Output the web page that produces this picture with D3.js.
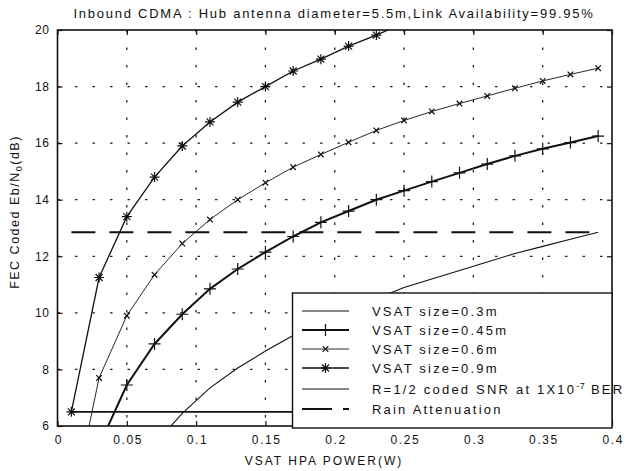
<!DOCTYPE html>
<html lang="en">
  <head>
    <meta charset="utf-8">
    <title>Inbound CDMA</title>
    <script src="https://d3js.org/d3.v7.min.js"></script>
    <style>
      body { margin: 0; background: #fff; }
      text { font-family: "Liberation Sans", Arial, sans-serif; fill: #111; }
    </style>
  </head>
  <body>
    <svg id="chart" width="638" height="471"></svg>
    <script type="text/javascript">

    // HPA power samples (W)
    var power = [0.01, 0.03, 0.05, 0.07, 0.09, 0.11, 0.13, 0.15, 0.17, 0.19,
                 0.21, 0.23, 0.25, 0.27, 0.29, 0.31, 0.33, 0.35, 0.37, 0.39];

    // Eb/No (dB) per VSAT size, null = not drawn
    var vsat03  = [null, null, null, 5.35, 6.45, 7.35, 8.05, 8.65, 9.2, 9.7,
                   10.1, 10.5, 10.9, 11.2, 11.5, 11.8, 12.1, 12.35, 12.6, 12.85];
    var vsat045 = [null, 5.3, 7.45, 8.9, 9.95, 10.85, 11.55, 12.15, 12.7, 13.2,
                   13.6, 14.0, 14.32, 14.64, 14.95, 15.26, 15.55, 15.8, 16.02, 16.25];
    var vsat06  = [3.0, 7.7, 9.9, 11.35, 12.45, 13.3, 14.0, 14.6, 15.15, 15.6,
                   16.03, 16.45, 16.8, 17.12, 17.4, 17.67, 17.94, 18.2, 18.43, 18.65];
    var vsat09  = [6.5, 11.25, 13.4, 14.8, 15.9, 16.75, 17.45, 18.0, 18.55, 18.97,
                   19.43, 19.82, 20.25];

    var snrLevel = 6.5;    // R=1/2 coded SNR at 1e-7 BER
    var rainLevel = 12.85; // rain attenuation

    var xTicks = [0, 0.05, 0.1, 0.15, 0.2, 0.25, 0.3, 0.35, 0.4];
    var xTickLabels = ["0", "0.05", "0.1", "0.15", "0.2", "0.25", "0.3", "0.35", "0.4"];
    var yTicks = [6, 8, 10, 12, 14, 16, 18, 20];

    var legendLabels = ["VSAT size=0.3m", "VSAT size=0.45m", "VSAT size=0.6m", "VSAT size=0.9m"];

    // note: "top" is reserved on window, so use p* names
    var pLeft = 57.5, pRight = 612, pTop = 30, pBottom = 426;
    var svg = d3.select("#chart");

    var x = d3.scaleLinear().domain([0, 0.4]).range([pLeft, pRight]);
    var y = d3.scaleLinear().domain([6, 20]).range([pBottom, pTop]);

    svg.append("defs").append("clipPath").attr("id", "plotclip")
      .append("rect").attr("x", pLeft).attr("y", pTop)
      .attr("width", pRight - pLeft).attr("height", pBottom - pTop);

    // grid (matlab style dotted)
    var grid = svg.append("g").attr("stroke", "#222").attr("stroke-width", 1.3)
      .attr("stroke-dasharray", "2.5,15");
    grid.selectAll(".vg").data(xTicks.slice(1, -1)).enter().append("line")
      .attr("x1", function(d){ return x(d); }).attr("x2", function(d){ return x(d); })
      .attr("y1", pTop).attr("y2", pBottom);
    grid.selectAll(".hg").data(yTicks.slice(1, -1)).enter().append("line")
      .attr("y1", function(d){ return y(d); }).attr("y2", function(d){ return y(d); })
      .attr("x1", pLeft).attr("x2", pRight);

    // axes with inward ticks on all sides
    var xAxis = d3.axisBottom(x).tickValues(xTicks).tickSize(-5).tickPadding(9)
      .tickFormat(function(d, i){ return xTickLabels[i]; });
    var yAxis = d3.axisLeft(y).tickValues(yTicks).tickSize(-5).tickPadding(8);

    var gx = svg.append("g").attr("transform", "translate(0," + pBottom + ")").call(xAxis);
    var gy = svg.append("g").attr("transform", "translate(" + pLeft + ",0)").call(yAxis);
    svg.append("g").attr("transform", "translate(0," + pTop + ")")
      .call(d3.axisTop(x).tickValues(xTicks).tickSize(-5).tickFormat(""));
    svg.append("g").attr("transform", "translate(" + pRight + ",0)")
      .call(d3.axisRight(y).tickValues(yTicks).tickSize(-5).tickFormat(""));

    svg.selectAll(".domain").remove();
    svg.selectAll(".tick line").attr("stroke", "#111").attr("stroke-width", 1.2);
    svg.selectAll(".tick text").style("font-size", "12px")
      .style("font-family", "'Liberation Sans', Arial, sans-serif").attr("fill", "#111");
    gx.selectAll(".tick text").style("letter-spacing", "1.6px").attr("dx", "0.8");
    gy.selectAll(".tick text").style("letter-spacing", "0.6px");

    svg.append("rect").attr("x", pLeft).attr("y", pTop)
      .attr("width", pRight - pLeft).attr("height", pBottom - pTop)
      .attr("fill", "none").attr("stroke", "#111").attr("stroke-width", 1.6);

    // marker shapes
    function markerPath(type, s) {
      if (type === "plus") return "M" + (-s) + ",0H" + s + "M0," + (-s) + "V" + s;
      if (type === "x") return "M" + (-s*0.7) + "," + (-s*0.7) + "L" + (s*0.7) + "," + (s*0.7) +
        "M" + (-s*0.7) + "," + (s*0.7) + "L" + (s*0.7) + "," + (-s*0.7);
      if (type === "star") return markerPath("plus", s) + markerPath("x", s);
      return "";
    }

    var series = [
      { vals: vsat03,  width: 1.1, marker: null,   ms: 0 },
      { vals: vsat045, width: 2.0, marker: "plus", ms: 6 },
      { vals: vsat06,  width: 0.9, marker: "x",    ms: 4 },
      { vals: vsat09,  width: 1.3, marker: "star", ms: 5 }
    ];

    var plot = svg.append("g").attr("clip-path", "url(#plotclip)");

    var line = d3.line()
      .defined(function(d){ return d !== null; })
      .x(function(d, i){ return x(power[i]); })
      .y(function(d){ return y(d); });

    series.forEach(function(s) {
      plot.append("path").datum(s.vals)
        .attr("d", line).attr("fill", "none")
        .attr("stroke", "#111").attr("stroke-width", s.width);
      if (s.marker) {
        var pts = s.vals.map(function(v, i){ return [power[i], v]; })
          .filter(function(p){ return p[1] !== null && p[1] >= 6 && p[1] <= 20; });
        plot.selectAll(null).data(pts).enter().append("path")
          .attr("transform", function(p){ return "translate(" + x(p[0]) + "," + y(p[1]) + ")"; })
          .attr("d", markerPath(s.marker, s.ms))
          .attr("fill", "none").attr("stroke", "#111").attr("stroke-width", 1.2);
      }
    });

    // reference lines
    plot.append("line")
      .attr("x1", x(power[0])).attr("x2", x(power[power.length - 1]))
      .attr("y1", y(snrLevel)).attr("y2", y(snrLevel))
      .attr("stroke", "#111").attr("stroke-width", 1.6);
    plot.append("line")
      .attr("x1", x(power[0])).attr("x2", x(power[power.length - 1]))
      .attr("y1", y(rainLevel)).attr("y2", y(rainLevel))
      .attr("stroke", "#111").attr("stroke-width", 2).attr("stroke-dasharray", "24,14");

    // legend
    var lg = svg.append("g");
    lg.append("rect").attr("x", 292.5).attr("y", 293).attr("width", pRight - 292.5).attr("height", 135)
      .attr("fill", "#fff").attr("stroke", "#111").attr("stroke-width", 1.4);

    var legendRows = [
      { label: legendLabels[0], width: 1.1, marker: null, ms: 0, dash: null },
      { label: legendLabels[1], width: 2.0, marker: "plus", ms: 6, dash: null },
      { label: legendLabels[2], width: 0.9, marker: "x", ms: 4, dash: null },
      { label: legendLabels[3], width: 1.3, marker: "star", ms: 5, dash: null },
      { label: null, width: 1.1, marker: null, ms: 0, dash: null },
      { label: "Rain Attenuation", width: 2, marker: null, ms: 0, dash: "30,11" }
    ];
    var rowY = [311, 330, 349, 368, 389, 409];

    legendRows.forEach(function(r, i) {
      var yy = rowY[i];
      lg.append("line").attr("x1", 302).attr("x2", 349).attr("y1", yy).attr("y2", yy)
        .attr("stroke", "#111").attr("stroke-width", r.width)
        .attr("stroke-dasharray", r.dash);
      if (r.marker) {
        lg.append("path").attr("transform", "translate(325.5," + yy + ")")
          .attr("d", markerPath(r.marker, r.ms))
          .attr("fill", "none").attr("stroke", "#111").attr("stroke-width", 1.2);
      }
      var t = lg.append("text").attr("x", 372).attr("y", yy + 4.5)
        .style("font-size", "13px").style("letter-spacing", "2.2px");
      if (r.label) {
        t.text(r.label);
      } else {
        t.text("R=1/2 coded SNR at 1X10");
        t.append("tspan").attr("dy", -5).style("font-size", "9px").style("letter-spacing", "0.5px").text("-7");
        t.append("tspan").attr("dy", 5).text(" BER");
      }
    });

    // titles
    svg.append("text").attr("x", 334).attr("y", 18).attr("text-anchor", "middle")
      .style("font-size", "13px").style("letter-spacing", "1.75px")
      .text("Inbound CDMA : Hub antenna diameter=5.5m,Link Availability=99.95%");

    svg.append("text").attr("x", 324).attr("y", 465).attr("text-anchor", "middle")
      .style("font-size", "12px").style("letter-spacing", "2px")
      .text("VSAT HPA POWER(W)");

    var yl = svg.append("text").attr("transform", "translate(18.5,212) rotate(-90)")
      .attr("text-anchor", "middle")
      .style("font-size", "12.5px").style("letter-spacing", "1.5px")
      .text("FEC Coded Eb/N");
    yl.append("tspan").attr("dy", 3).style("font-size", "9px").text("0");
    yl.append("tspan").attr("dy", -3).text("(dB)");

    </script>
  </body>
</html>
